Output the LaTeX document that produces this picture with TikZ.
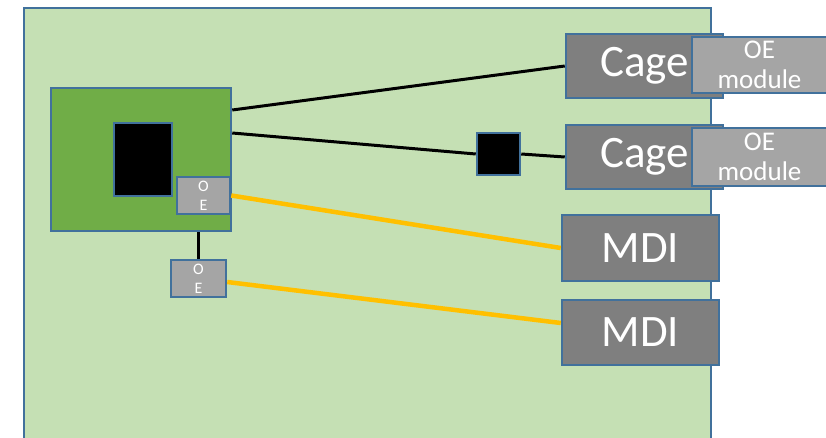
\documentclass[tikz,border=0pt]{standalone}
\usepackage{fontspec}
\setmainfont{Carlito}
\begin{document}
\begin{tikzpicture}[x=1pt,y=-1pt,
  edge/.style={draw=edgeblue,line width=2.5pt},
  box/.style={edge,rectangle,inner sep=0pt,text=white,align=center},
  bigbox/.style={box,fill=boxgray,font=\fontsize{45}{54}\selectfont},
  modbox/.style={box,fill=modgray,font=\fontsize{27}{30}\selectfont},
  oebox/.style={box,fill=modgray,font=\fontsize{16}{19}\selectfont},
  wire/.style={line width=3pt,black},
  fibre/.style={line width=4.5pt,fibreyellow}]
\definecolor{boardgreen}{HTML}{C5E0B4}
\definecolor{chipgreen}{HTML}{70AD47}
\definecolor{edgeblue}{HTML}{41719C}
\definecolor{boxgray}{HTML}{7F7F7F}
\definecolor{modgray}{HTML}{A5A5A5}
\definecolor{fibreyellow}{HTML}{FFC000}
\useasboundingbox (0,0) rectangle (826,438);
\fill[white] (0,0) rectangle (826,438);

% board
\draw[edge,line width=2.2pt,fill=boardgreen] (24,8) rectangle (711,450);

% host chip with ASIC and co-packaged optics
\node[box,fill=chipgreen,minimum width=180pt,minimum height=143pt] (chip) at (141,159.5) {};
\node[box,fill=black,minimum width=58pt,minimum height=73pt] (asic) at (143,159.5) {};
\node[oebox,minimum width=53pt,minimum height=37pt] (oe1) at (203.5,195.5) {O\\E};
\node[oebox,minimum width=55pt,minimum height=37pt] (oe2) at (198.5,278.5) {O\\E};

% retimer
\node[box,fill=black,minimum width=43pt,minimum height=42pt] (via) at (498.5,154) {};

% front panel
\node[bigbox,minimum width=157pt,minimum height=64pt] (cage1) at (644.5,66) {Cage};
\node[modbox,minimum width=135pt,minimum height=56pt] (oem1) at (759.5,65) {OE\\module};
\node[bigbox,minimum width=157pt,minimum height=64pt] (cage2) at (644.5,157) {Cage};
\node[modbox,minimum width=135pt,minimum height=58pt] (oem2) at (759.5,157) {OE\\module};
\node[bigbox,minimum width=157pt,minimum height=66pt] (mdi1) at (640.5,248) {MDI};
\node[bigbox,minimum width=157pt,minimum height=65pt] (mdi2) at (640.5,332.5) {MDI};

% electrical traces
\draw[wire] ([yshift=49.5pt]chip.east) -- (cage1.west);
\draw[wire] ([yshift=26.5pt]chip.east) -- (via.west);
\draw[wire] (via.east) -- (cage2.west);
\draw[wire] (oe2.north) -- (oe2.north |- chip.south);

% optical fibres
\draw[fibre] (oe1.east) -- (mdi1.west);
\draw[fibre] ([yshift=-3.5pt]oe2.east) -- ([yshift=9.5pt]mdi2.west);
\end{tikzpicture}
\end{document}
